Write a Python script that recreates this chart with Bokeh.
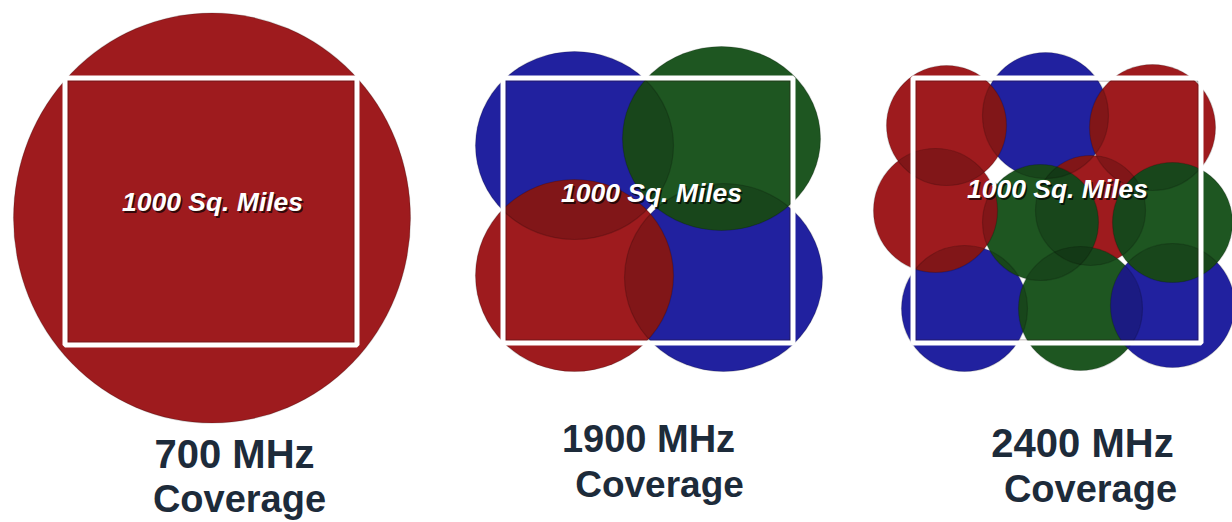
from bokeh.plotting import figure
from bokeh.models import Range1d
from bokeh.core.properties import value
from bokeh.embed import file_html
from bokeh.resources import INLINE

# ---- data -------------------------------------------------------------
band_labels = ["700 MHz", "1900 MHz", "2400 MHz"]
coverage_label = "Coverage"
area_label = "1000 Sq. Miles"

# colours of the cells (target appearance)
cell_rgb = {"red": (158, 28, 30), "blue": (34, 34, 160), "green": (30, 86, 34)}

# panel 1: one large cell
p1_x = [211.5]
p1_y = [217.5]
p1_w = [397]
p1_h = [410]
p1_c = ["red"]

# panel 2: four cells
p2_x = [574, 723, 574, 721]
p2_y = [145, 277, 275, 138]
p2_w = [198, 198, 198, 198]
p2_h = [188, 188, 192, 184]
p2_c = ["blue", "blue", "red", "green"]

# panel 3: ten cells
p3_x = [1045, 964, 1090, 946, 1152, 1040, 1080, 1172, 1172, 935]
p3_y = [115, 308, 210, 125, 127, 222, 308, 305, 222, 210]
p3_d = [126, 126, 110, 120, 126, 116, 124, 124, 120, 124]
p3_c = ["blue", "blue", "red", "red", "red", "green", "green", "blue", "green", "red"]

# square "1000 sq. miles" boxes
box_x = [210.5, 647.5, 1056.5]
box_y = [211, 210, 210]
box_w = [292, 290, 288]
box_h = [267, 265, 265]

area_x = [212, 651, 1057]
area_y = [211, 202, 198]

label_x = [234, 648, 1082]
label_y = [469, 453, 458]
cov_x = [239, 659, 1090]
cov_y = [513, 498, 503]
label_size = [40, 38, 40]
cov_size = [38, 37, 38]
area_size = 26.5

# ---- figure -----------------------------------------------------------
p = figure(width=1232, height=522, x_range=Range1d(0, 1232), y_range=Range1d(522, 0),
           output_backend="svg", toolbar_location=None, min_border=0)
p.axis.visible = False
p.grid.visible = False
p.outline_line_color = None
p.background_fill_color = "white"
p.border_fill_color = "white"

DARK = 0.18


def hexc(rgb, k=1.0):
    return "#%02x%02x%02x" % tuple(min(255, int(round(v * k))) for v in rgb)


def shift(size):
    # compensate the baseline offset of the svg text renderer
    return 0.5 * size - 4


def draw_cells(xs, ys, ws, hs, cs):
    base = [hexc(cell_rgb[c], 1 / (1 - DARK)) for c in cs]
    p.ellipse(x=xs, y=ys, width=ws, height=hs, fill_color=base, line_color=None)
    # darkening pass: overlaps get darker, single coverage returns to target colour
    for x, y, w, h in zip(xs, ys, ws, hs):
        p.ellipse(x=[x], y=[y], width=[w], height=[h], fill_color="black", fill_alpha=DARK,
                  line_color="black", line_alpha=0.18, line_width=1.2)


draw_cells(p1_x, p1_y, p1_w, p1_h, p1_c)
draw_cells(p2_x, p2_y, p2_w, p2_h, p2_c)
draw_cells(p3_x, p3_y, p3_d, p3_d, p3_c)

# boxes
p.rect(x=box_x, y=box_y, width=[w - 6 for w in box_w], height=[h - 6 for h in box_h],
       fill_color=None, line_color="#2a1010", line_alpha=0.4, line_width=1)
p.rect(x=box_x, y=box_y, width=box_w, height=box_h, fill_color=None,
       line_color="white", line_width=5)

# area labels with shadow
ay = [y - shift(area_size) for y in area_y]
p.text(x=[x + 1.5 for x in area_x], y=[y + 1.5 for y in ay], text=[area_label] * 3,
       text_font=value("Liberation Sans"), text_font_style="bold italic",
       text_font_size="%gpx" % area_size, text_color="black", text_alpha=0.7,
       text_align="center", text_baseline="alphabetic")
p.text(x=area_x, y=ay, text=[area_label] * 3,
       text_font=value("Liberation Sans"), text_font_style="bold italic",
       text_font_size="%gpx" % area_size, text_color="white",
       text_align="center", text_baseline="alphabetic")

# band labels
for i in range(3):
    p.text(x=[label_x[i]], y=[label_y[i] - shift(label_size[i])], text=[band_labels[i]],
           text_font=value("Liberation Sans"), text_font_style="bold",
           text_font_size="%gpx" % label_size[i], text_color="#1d2b3a",
           text_align="center", text_baseline="alphabetic")
    p.text(x=[cov_x[i]], y=[cov_y[i] - shift(cov_size[i])], text=[coverage_label],
           text_font=value("Liberation Sans"), text_font_style="bold",
           text_font_size="%gpx" % cov_size[i], text_color="#1d2b3a",
           text_align="center", text_baseline="alphabetic")

open("out.html", "w").write(file_html(p, INLINE))
